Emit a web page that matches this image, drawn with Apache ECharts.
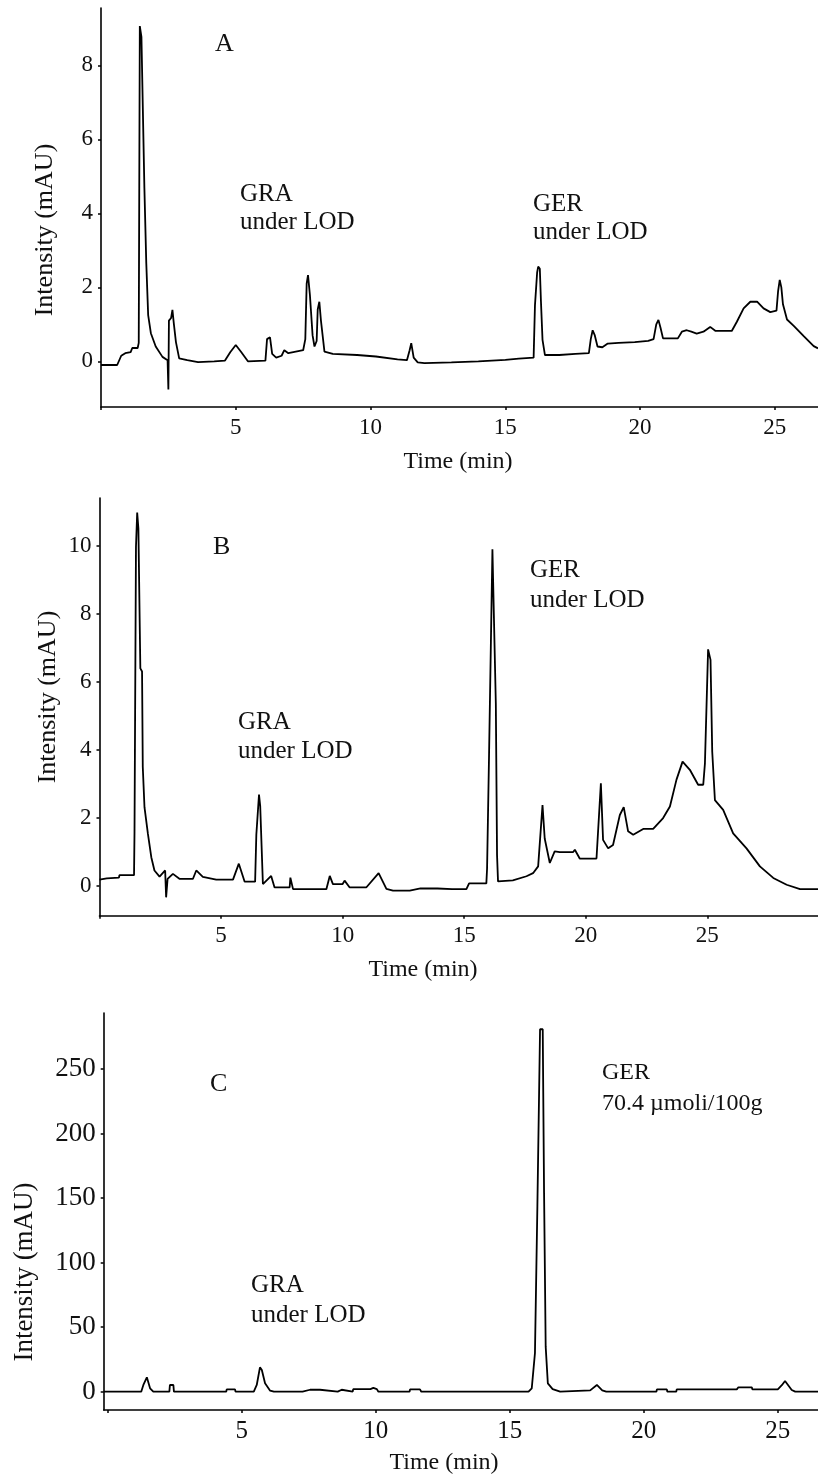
<!DOCTYPE html>
<html>
<head>
<meta charset="utf-8">
<script src="https://cdn.jsdelivr.net/npm/echarts@6/dist/echarts.min.js"></script>
<style>
html,body{margin:0;padding:0;background:#fff;}
#chart{width:818px;height:1482px;}
</style>
</head>
<body>
<div id="chart"></div>
<script>
// ---------- DATA ----------
const xTicks = [5, 10, 15, 20, 25];
const yTicksA = [0, 2, 4, 6, 8];
const yTicksB = [0, 2, 4, 6, 8, 10];
const yTicksC = [0, 50, 100, 150, 200, 250];

const panelLabels = ['A', 'B', 'C'];
const annGRA = ['GRA\nunder LOD', 'GRA\nunder LOD', 'GRA\nunder LOD'];
const annGER = ['GER\nunder LOD', 'GER\nunder LOD', 'GER\n70.4 \u00b5moli/100g'];
const yName = 'Intensity (mAU)';
const xName = 'Time (min)';

// Chromatogram A: [time (min), intensity (mAU)]
const traceA = [
  [0,-0.1],[0.6,-0.1],[0.75,0.15],[0.9,0.22],[1.1,0.25],[1.16,0.36],[1.36,0.36],[1.4,0.5],
  [1.44,9.06],[1.5,8.77],[1.56,8.77],[1.61,4.68],[1.68,2.65],[1.75,1.25],[1.85,0.76],
  [2.03,0.4],[2.28,0.12],[2.47,0.03],[2.5,-0.76],[2.52,1.1],[2.6,1.17],[2.65,1.39],
  [2.7,1.03],[2.78,0.52],[2.9,0.08],[3.2,0.03],[3.6,-0.02],[4.2,0.0],[4.6,0.02],
  [4.8,0.25],[5.0,0.44],[5.2,0.25],[5.45,0.0],[6.1,0.02],[6.16,0.6],[6.27,0.65],
  [6.35,0.2],[6.5,0.1],[6.7,0.15],[6.8,0.3],[6.95,0.22],[7.5,0.3],[7.58,0.6],
  [7.63,2.1],[7.68,2.33],[7.75,1.8],[7.85,0.7],[7.92,0.4],[8.0,0.55],[8.04,1.4],
  [8.1,1.61],[8.16,1.1],[8.29,0.26],[8.6,0.2],[9.5,0.17],[10.2,0.13],[11.0,0.05],
  [11.35,0.03],[11.45,0.3],[11.51,0.49],[11.6,0.1],[11.75,-0.03],[12,-0.05],
  [13,-0.03],[14,0.0],[15,0.04],[15.5,0.07],[16.05,0.1],[16.1,1.52],[16.18,2.4],
  [16.22,2.56],[16.28,2.5],[16.32,1.65],[16.38,0.58],[16.47,0.17],[17,0.17],
  [17.6,0.2],[18.1,0.22],[18.17,0.6],[18.24,0.84],[18.32,0.7],[18.42,0.4],
  [18.6,0.38],[18.8,0.48],[19.2,0.5],[19.8,0.52],[20.3,0.55],[20.5,0.6],
  [20.6,1.0],[20.68,1.12],[20.76,0.9],[20.85,0.62],[21.4,0.62],[21.55,0.8],
  [21.73,0.84],[21.9,0.8],[22.1,0.75],[22.35,0.8],[22.6,0.93],[22.8,0.82],
  [23.4,0.82],[23.59,1.07],[23.84,1.43],[24.09,1.61],[24.34,1.61],[24.58,1.43],
  [24.83,1.33],[25.06,1.37],[25.12,1.9],[25.18,2.2],[25.24,2.0],[25.3,1.54],
  [25.45,1.13],[25.7,0.96],[26.07,0.68],[26.44,0.41],[26.6,0.35]
];

// Chromatogram B
const traceB = [
  [0,0.18],[0.3,0.22],[0.8,0.24],[0.82,0.31],[1.42,0.31],[1.44,1.59],[1.5,9.96],
  [1.55,10.97],[1.6,10.5],[1.68,6.39],[1.75,6.3],[1.78,3.49],[1.85,2.31],[1.99,1.53],
  [2.13,0.84],[2.26,0.45],[2.47,0.27],[2.7,0.45],[2.74,-0.34],[2.8,0.2],[3.02,0.35],
  [3.3,0.2],[3.84,0.2],[3.98,0.45],[4.25,0.26],[4.8,0.18],[5.49,0.18],[5.73,0.65],
  [5.97,0.12],[6.4,0.12],[6.45,1.5],[6.56,2.68],[6.61,2.34],[6.72,0.05],[7.06,0.29],
  [7.2,-0.05],[7.82,-0.05],[7.85,0.24],[7.96,-0.1],[9.33,-0.1],[9.47,0.29],[9.6,0.05],
  [10.0,0.05],[10.08,0.15],[10.29,-0.05],[10.97,-0.05],[11.48,0.37],[11.8,-0.09],
  [12.07,-0.14],[12.76,-0.14],[13.2,-0.08],[13.9,-0.08],[14.5,-0.1],[15.09,-0.1],
  [15.2,0.07],[15.91,0.07],[15.94,0.51],[16.02,3.8],[16.16,9.89],[16.24,9.89],
  [16.3,5.36],[16.35,0.9],[16.39,0.13],[17.0,0.16],[17.56,0.28],[17.83,0.37],
  [18.04,0.57],[18.22,2.37],[18.31,1.39],[18.52,0.67],[18.72,1.01],[18.93,0.99],
  [19.48,0.99],[19.55,1.06],[19.75,0.8],[20.44,0.8],[20.62,3.01],[20.71,1.35],
  [20.92,1.1],[21.12,1.2],[21.4,2.08],[21.56,2.31],[21.74,1.6],[21.95,1.5],
  [22.36,1.67],[22.77,1.67],[23.18,1.99],[23.46,2.33],[23.73,3.12],[23.98,3.65],
  [24.28,3.41],[24.62,2.97],[24.83,2.97],[24.9,3.6],[25.03,6.95],[25.13,6.64],
  [25.2,3.94],[25.31,2.52],[25.65,2.23],[26.06,1.54],[26.61,1.1],[27.16,0.57],
  [27.71,0.23],[28.26,0.03],[28.81,-0.1],[29.55,-0.1]
];

// Chromatogram C
const traceC = [
  [-0.15,0],[1.25,0],[1.33,5.2],[1.46,11.1],[1.58,2.6],[1.7,0],[2.3,0],[2.32,5.2],
  [2.45,5.2],[2.47,0],[4.42,0],[4.44,1.8],[4.75,1.8],[4.77,0],[5.45,0],[5.56,5.2],
  [5.68,18.9],[5.75,16.8],[5.87,6.5],[6.06,0.8],[6.2,0],[7.27,0],[7.29,1.5],[7.55,1.5],
  [7.6,0],[7.8,1.5],[7.92,1.5],[7.95,0],[8.58,0],[8.6,1.5],[8.73,1.5],[8.76,0],
  [9.14,0],[9.16,2],[9.8,2],[9.91,3],[10.04,2],[10.1,0],[11.26,0],[11.28,1.8],
  [11.65,1.8],[11.7,0],[15.7,0],[15.82,2.6],[15.94,30],[16.03,143.4],[16.13,281],
  [16.23,281],[16.28,153.8],[16.34,34.9],[16.42,6.5],[16.6,2],[16.88,0],[18.0,1],
  [18.25,5.2],[18.45,1],[18.6,0],[20.47,0],[20.49,1.8],[20.86,1.8],[20.88,0],
  [21.21,0],[21.23,1.8],[23.47,1.8],[23.53,3.4],[24.03,3.4],[24.05,1.8],[25.0,1.8],
  [25.15,5],[25.27,8.3],[25.52,1.3],[25.65,0],[26.5,0]
];

// ---------- CHART ----------
const FONT = "Liberation Serif";
const TXT = '#111';
const chart = echarts.init(document.getElementById('chart'), null, {renderer: 'canvas', width: 818, height: 1482});

const grids = [
  {left: 101, top: 8, width: 717, height: 399},
  {left: 99.5, top: 498, width: 718.5, height: 417.7},
  {left: 103.7, top: 1013, width: 714.3, height: 397}
];
const xRanges = [[0, 26.6], [0, 29.55], [-0.15, 26.5]];
const yRanges = [[-1.235, 9.55], [-0.88, 11.4], [-14.2, 293.6]];
const yTickSets = [yTicksA, yTicksB, yTicksC];
const yTickFont = [23, 23, 27];
const xTickFont = [23, 23, 25];

function axisCommon() {
  return {
    axisLine: {show: true, onZero: false, lineStyle: {color: '#000', width: 1.6}},
    splitLine: {show: false},
    axisTick: {show: true, inside: false, length: 3, lineStyle: {color: '#000', width: 1.5}},
    axisLabel: {color: TXT, fontFamily: FONT}
  };
}

const xAxis = grids.map((g, i) => {
  const c = axisCommon();
  c.axisTick.customValues = [0].concat(xTicks);
  c.axisLabel.customValues = xTicks;
  c.axisLabel.fontSize = xTickFont[i];
  c.axisLabel.margin = 9;
  return Object.assign({type: 'value', gridIndex: i, min: xRanges[i][0], max: xRanges[i][1]}, c);
});
const yAxis = grids.map((g, i) => {
  const c = axisCommon();
  c.axisTick.customValues = yTickSets[i];
  c.axisLabel.customValues = yTickSets[i];
  c.axisLabel.fontSize = yTickFont[i];
  c.axisLabel.margin = 8;
  return Object.assign({type: 'value', gridIndex: i, min: yRanges[i][0], max: yRanges[i][1]}, c);
});

const series = [traceA, traceB, traceC].map((d, i) => ({
  type: 'line', xAxisIndex: i, yAxisIndex: i, data: d,
  showSymbol: false, symbol: 'none', clip: true,
  lineStyle: {color: '#000', width: 1.8}, silent: true
}));

function txt(text, x, y, size, lh) {
  return {
    type: 'text', x: x, y: y, silent: true,
    style: {text: text, fill: TXT, fontSize: size, fontFamily: FONT, lineHeight: lh || size,
            align: 'left', verticalAlign: 'top'}
  };
}
function rot(text, cx, cy, size) {
  return {
    type: 'text', x: cx, y: cy, rotation: Math.PI / 2, silent: true,
    style: {text: text, fill: TXT, fontSize: size, fontFamily: FONT,
            align: 'center', verticalAlign: 'middle'}
  };
}
function ctr(text, cx, cy, size) {
  return {
    type: 'text', x: cx, y: cy, silent: true,
    style: {text: text, fill: TXT, fontSize: size, fontFamily: FONT,
            align: 'center', verticalAlign: 'middle'}
  };
}

const graphic = [
  // panel letters
  txt(panelLabels[0], 215, 31, 26),
  txt(panelLabels[1], 213, 534, 26),
  txt(panelLabels[2], 210, 1071, 26),
  // annotations
  txt(annGRA[0], 240, 180, 25, 28),
  txt(annGER[0], 533, 190, 25, 28),
  txt(annGRA[1], 238, 708, 25, 29),
  txt(annGER[1], 530, 555, 25, 30),
  txt(annGRA[2], 251, 1270, 25, 30),
  txt(annGER[2], 602, 1057, 24, 31),
  // axis names
  rot(yName, 45, 230, 26),
  rot(yName, 48, 697, 26),
  rot(yName, 25, 1272, 27),
  ctr(xName, 458, 462, 24),
  ctr(xName, 423, 970, 24),
  ctr(xName, 444, 1463, 24)
];

chart.setOption({
  animation: false,
  backgroundColor: '#fff',
  grid: grids,
  xAxis: xAxis,
  yAxis: yAxis,
  series: series,
  graphic: graphic
});
</script>
</body>
</html>
